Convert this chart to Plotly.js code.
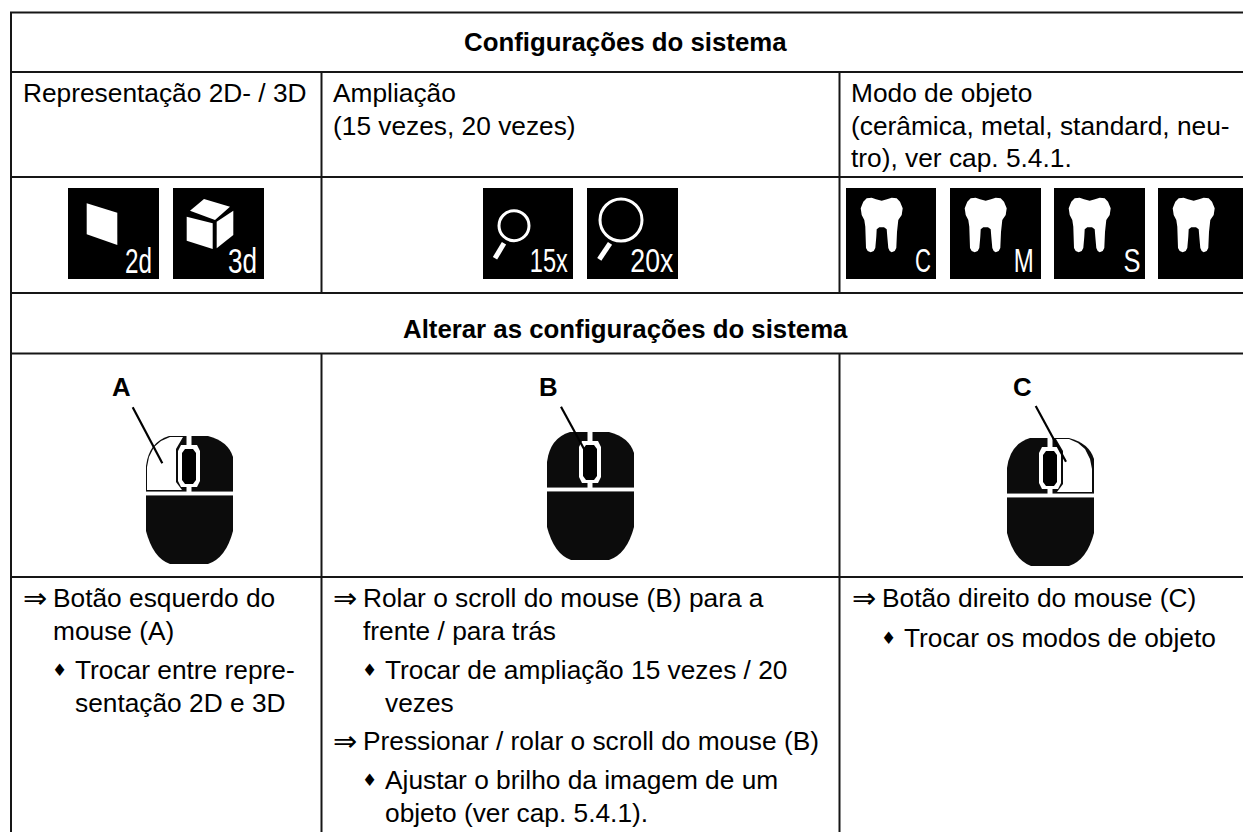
<!DOCTYPE html>
<html>
<head>
<meta charset="utf-8">
<script src="https://cdn.plot.ly/plotly-3.0.1.min.js"></script>
<style>html,body{margin:0;padding:0;background:#fff;overflow:hidden}#chart{width:1243px;height:832px}</style>
</head>
<body>
<div id="chart"></div>
<script>
// ---- table contents ----
const headerTop = "Configurações do sistema";
const headerMid = "Alterar as configurações do sistema";
const col1Title = ["Representação 2D- / 3D"];
const col2Title = ["Ampliação", "(15 vezes, 20 vezes)"];
const col3Title = ["Modo de objeto", "(cerâmica, metal, standard, neu-", "tro), ver cap. 5.4.1."];
const viewIcons = ["2d", "3d"];
const zoomIcons = ["15x", "20x"];
const toothIcons = ["C", "M", "S", ""];
const mouseLabels = ["A", "B", "C"];
const col1Action = ["Botão esquerdo do", "mouse (A)"];
const col1Result = ["Trocar entre repre-", "sentação 2D e 3D"];
const col2Action1 = ["Rolar o scroll do mouse (B) para a", "frente / para trás"];
const col2Result1 = ["Trocar de ampliação 15 vezes / 20", "vezes"];
const col2Action2 = ["Pressionar / rolar o scroll do mouse (B)"];
const col2Result2 = ["Ajustar o brilho da imagem de um", "objeto (ver cap. 5.4.1)."];
const col3Action = ["Botão direito do mouse (C)"];
const col3Result = ["Trocar os modos de objeto"];

// ---- helpers ----
const W = 1243, H = 832, FS = 26.3, BOLD = 25.8, BODY = '"Liberation Sans", Arial, sans-serif';
const LINE = '#161616';
const shapes = [], annotations = [], squeezed = {};
function txt(t, x, y, o) {
  o = o || {};
  annotations.push({text: t, x: x, y: y, xref: 'x', yref: 'y', showarrow: false, borderpad: 0,
    xanchor: o.anchor || 'left', yanchor: 'middle', align: 'left',
    font: {family: o.family || BODY, size: o.size || FS, color: o.color || '#000', weight: o.weight || 400}});
}
function rule(x0, y0, x1, y1, w, c) {
  shapes.push({type: 'line', xref: 'x', yref: 'y', x0, y0, x1, y1, layer: 'above', line: {color: c || LINE, width: w || 2}});
}
function rect(x0, y0, x1, y1, c) {
  shapes.push({type: 'rect', xref: 'x', yref: 'y', x0, y0, x1, y1, layer: 'above', fillcolor: c, line: {width: 0}});
}
function poly(pts, ox, oy, c) {
  const d = pts.map((p, i) => (i ? 'L' : 'M') + (ox + p[0]) + ',' + (oy + p[1])).join(' ') + ' Z';
  shapes.push({type: 'path', xref: 'x', yref: 'y', path: d, layer: 'above', fillcolor: c, line: {width: 0}});
}
function rawPath(d, fill) {
  shapes.push({type: 'path', xref: 'x', yref: 'y', path: d, layer: 'above', fillcolor: fill, line: {width: 0}});
}
function ring(cx, cy, r, w) {
  shapes.push({type: 'circle', xref: 'x', yref: 'y', x0: cx - r, x1: cx + r, y0: cy - r, y1: cy + r, layer: 'above',
    fillcolor: 'rgba(0,0,0,0)', line: {color: '#fff', width: w}});
}
// pixel-font icon caption: real text, squeezed to the caption's width after drawing
function iconLabel(t, xc, wid, size, y) {
  squeezed[t] = wid;
  txt(t, xc, y || 260.5, {anchor: 'center', size: size || 35, color: '#fff'});
}

// ---- grid ----
rule(10, 12.5, W, 12.5); rule(10, 72, W, 72); rule(10, 177, W, 177);
rule(10, 293, W, 293); rule(10, 353.5, W, 353.5); rule(10, 577, W, 577);
rule(11, 12, 11, H);
[321.5, 839.5].forEach(x => { rule(x, 72, x, 293); rule(x, 353.5, x, H); });

// ---- headers ----
txt(headerTop, 625, 42, {anchor: 'center', weight: 700, size: BOLD});
txt(headerMid, 625, 329, {anchor: 'center', weight: 700, size: BOLD});

// ---- column titles ----
const rowY = [93, 126, 158];
col1Title.forEach((t, i) => txt(t, 22, rowY[i]));
col2Title.forEach((t, i) => txt(t, 332, rowY[i]));
col3Title.forEach((t, i) => txt(t, 850, rowY[i]));

// ---- icons ----
const BOX = 91, TOP = 188;
function box(x, w) { rect(x, TOP, x + (w || BOX), TOP + BOX, '#000'); }
box(68); box(173);
poly([[18.7,15.3],[49.3,24.7],[49.3,57],[18.7,46.3]], 68, TOP, '#fff');
iconLabel(viewIcons[0], 138.5, 27);
poly([[31,11],[57,18.7],[42,32],[17,22.7]], 173, TOP, '#fff');
poly([[13.7,28.7],[39.7,35.3],[39.7,61],[13.7,52.7]], 173, TOP, '#fff');
poly([[43.7,33.7],[60.3,22.7],[60.3,47],[43.7,60.3]], 173, TOP, '#fff');
iconLabel(viewIcons[1], 242.5, 29);

box(483, 90); box(587);
ring(483+31, TOP+37.7, 15, 3);
rule(483+21, TOP+55.3, 483+12, TOP+70.3, 5, '#fff');
iconLabel(zoomIcons[0], 549, 38, 33);
ring(587+34, TOP+32, 21, 3);
rule(587+23, TOP+55.3, 587+12.3, TOP+71.3, 5, '#fff');
iconLabel(zoomIcons[1], 651.5, 43, 33);

const toothShape = [[35.7,12.7],[30,11.3],[25.7,9.7],[20.7,10.3],[17.3,13.7],[14.7,20.3],[15.7,27],[18.3,32],[19.3,38.7],[20,60],[21.7,63],[24.7,64.3],[27.7,63],[29.3,60],[30.3,48.7],[30.7,41.3],[33.3,39.3],[38,39.3],[40.7,41.3],[41.3,48.7],[42.3,60],[43.7,63],[45.7,64.3],[48.7,63],[50.3,60],[51,44],[52.3,32],[55.7,27],[56.7,20.3],[54,13.7],[50.7,10.3],[45.7,9.7],[41,11.3]];
[[846, 90, 923, 16], [950, 91, 1024, 20], [1054, 91, 1131.5, 17], [1158, 85, 0, 0]].forEach((b, i) => {
  box(b[0], b[1]);
  poly(toothShape, b[0], TOP, '#fff');
  if (toothIcons[i]) iconLabel(toothIcons[i], b[2], b[3], 33);
});

// ---- mice ----
function mirror(pts, on) { return on ? pts.map(p => [86 - p[0], p[1]]) : pts; }
function mouse(ox, oy, selected) {
  const X = x => ox + x, Y = y => oy + y;
  rawPath(`M${X(0)},${Y(30)} Q${X(3)},${Y(6)} ${X(23)},${Y(0)} L${X(62)},${Y(0)} Q${X(82)},${Y(5)} ${X(87)},${Y(21)} L${X(87)},${Y(95)} Q${X(80)},${Y(122)} ${X(62)},${Y(128)} L${X(24)},${Y(128)} Q${X(7)},${Y(122)} ${X(0)},${Y(95)} Z`, '#0c0c0c');
  if (selected) {
    const m = selected === 'right';
    const btn = [[1,54],[1,31],[3,21],[8,11],[15,5],[24,1],[37,1],[30,13],[30,46],[36,54]];
    poly(mirror(btn, m), ox, oy, '#fff');
  }
  rect(X(0), Y(55), X(87), Y(60), '#777');
  rect(X(0), Y(56), X(87), Y(59), '#fff');
  rect(X(40.5), Y(0), X(45.5), Y(56), '#fff');
  poly([[35,9],[51,9],[54,15],[54,45],[51,51],[35,51],[32,45],[32,15]], ox, oy, '#fff');
  poly([[39,13],[47,13],[50,17],[50,44],[47,48],[39,48],[36,44],[36,17]], ox, oy, '#000');
}
mouse(146, 436, 'left');
mouse(547, 432, null);
mouse(1007, 438, 'right');
rule(132.7, 407.3, 162.3, 463.3, 2.2, '#000');
rule(561, 406.7, 591, 461.7, 2.2, '#000');
rule(1035.7, 406, 1066, 461.7, 2.2, '#000');
[[121, mouseLabels[0]], [548.5, mouseLabels[1]], [1022, mouseLabels[2]]].forEach(m => txt(m[1], m[0], 387, {anchor: 'center', weight: 700, size: BOLD}));

// ---- instruction lists ----
const ARROW = '⇒', DIAMOND = '♦', SYM = '"DejaVu Sans", sans-serif';
function action(lines, x, y) {
  txt(ARROW, x, y, {family: SYM, size: 29});
  lines.forEach((t, i) => txt(t, x + 30, y + i * 33));
}
function result(lines, x, y) {
  txt(DIAMOND, x + 29, y, {family: SYM, size: 17});
  lines.forEach((t, i) => txt(t, x + 52, y + i * 33));
}
action(col1Action, 22, 598); result(col1Result, 22, 670);
action(col2Action1, 332, 598); result(col2Result1, 332, 670);
action(col2Action2, 332, 741); result(col2Result2, 332, 780);
action(col3Action, 851, 598); result(col3Result, 851, 638);

Plotly.newPlot('chart', [], {
  width: W, height: H, margin: {l: 0, r: 0, t: 0, b: 0},
  paper_bgcolor: '#fff', plot_bgcolor: '#fff', showlegend: false,
  xaxis: {range: [0, W], visible: false, fixedrange: true},
  yaxis: {range: [H, 0], visible: false, fixedrange: true},
  shapes, annotations
}, {displayModeBar: false, staticPlot: true}).then(() => {
  document.querySelectorAll('.annotation-text').forEach(el => {
    const isWhite = /255,\s*255,\s*255|#fff/.test(el.style.fill || '');
    const w = squeezed[el.textContent];
    if (isWhite && w) {
      const b0 = el.getBBox(), c0 = b0.x + b0.width / 2;
      el.setAttribute('textLength', w);
      el.setAttribute('lengthAdjust', 'spacingAndGlyphs');
      el.setAttribute('text-anchor', 'start');
      el.style.textAnchor = 'start';
      el.setAttribute('x', c0 - w / 2);
    }
  });
});
</script>
</body>
</html>
